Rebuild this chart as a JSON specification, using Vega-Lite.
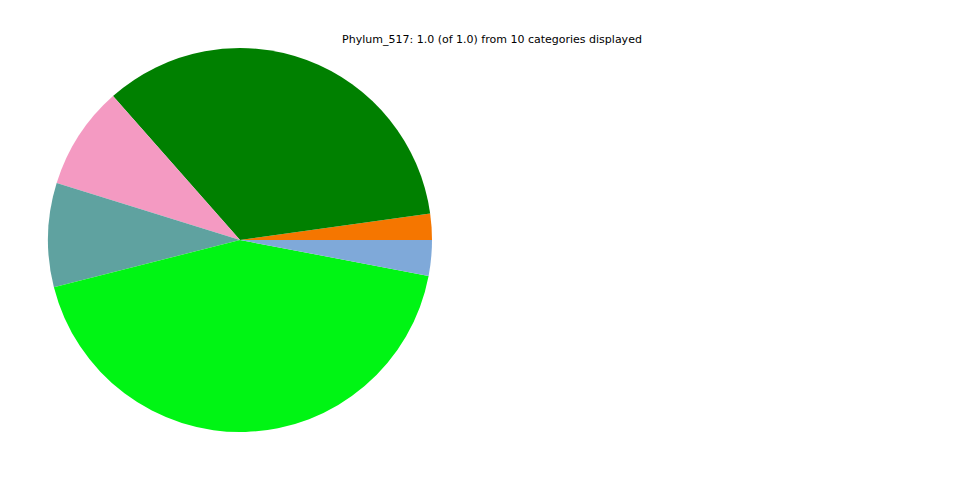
{
  "$schema": "https://vega.github.io/schema/vega-lite/v6.json",
  "width": 480,
  "height": 480,
  "autosize": {"type": "none"},
  "padding": {"left": 0, "top": 0, "right": 480, "bottom": 0},
  "background": "white",
  "title": {
    "text": "Phylum_517: 1.0 (of 1.0) from 10 categories displayed",
    "font": "DejaVu Sans",
    "fontSize": 11,
    "fontWeight": "normal",
    "color": "black",
    "anchor": "middle",
    "dx": 252,
    "offset": -54,
    "limit": 2000,
    "baseline": "alphabetic"
  },
  "data": {
    "values": [
      {"category": "A", "value": 0.0001, "order": 0, "color": "#808080"},
      {"category": "B", "value": 0.022, "order": 1, "color": "#f57600"},
      {"category": "C", "value": 0.343, "order": 2, "color": "#008000"},
      {"category": "D", "value": 0.087, "order": 3, "color": "#f49ac2"},
      {"category": "E", "value": 0.0875, "order": 4, "color": "#5fa2a0"},
      {"category": "F", "value": 0.0001, "order": 5, "color": "#808080"},
      {"category": "G", "value": 0.4305, "order": 6, "color": "#00f514"},
      {"category": "H", "value": 0.030, "order": 7, "color": "#7fa9d9"},
      {"category": "I", "value": 0.0, "order": 8, "color": "#808080"},
      {"category": "J", "value": 0.0, "order": 9, "color": "#808080"}
    ]
  },
  "mark": {"type": "arc", "radius": 192},
  "encoding": {
    "theta": {"field": "value", "type": "quantitative", "stack": true, "scale": {"range": [1.5707963, -4.7123890]}},
    "order": {"field": "order", "type": "quantitative"},
    "color": {"field": "color", "type": "nominal", "scale": null, "legend": null}
  },
  "view": {"stroke": null}
}
